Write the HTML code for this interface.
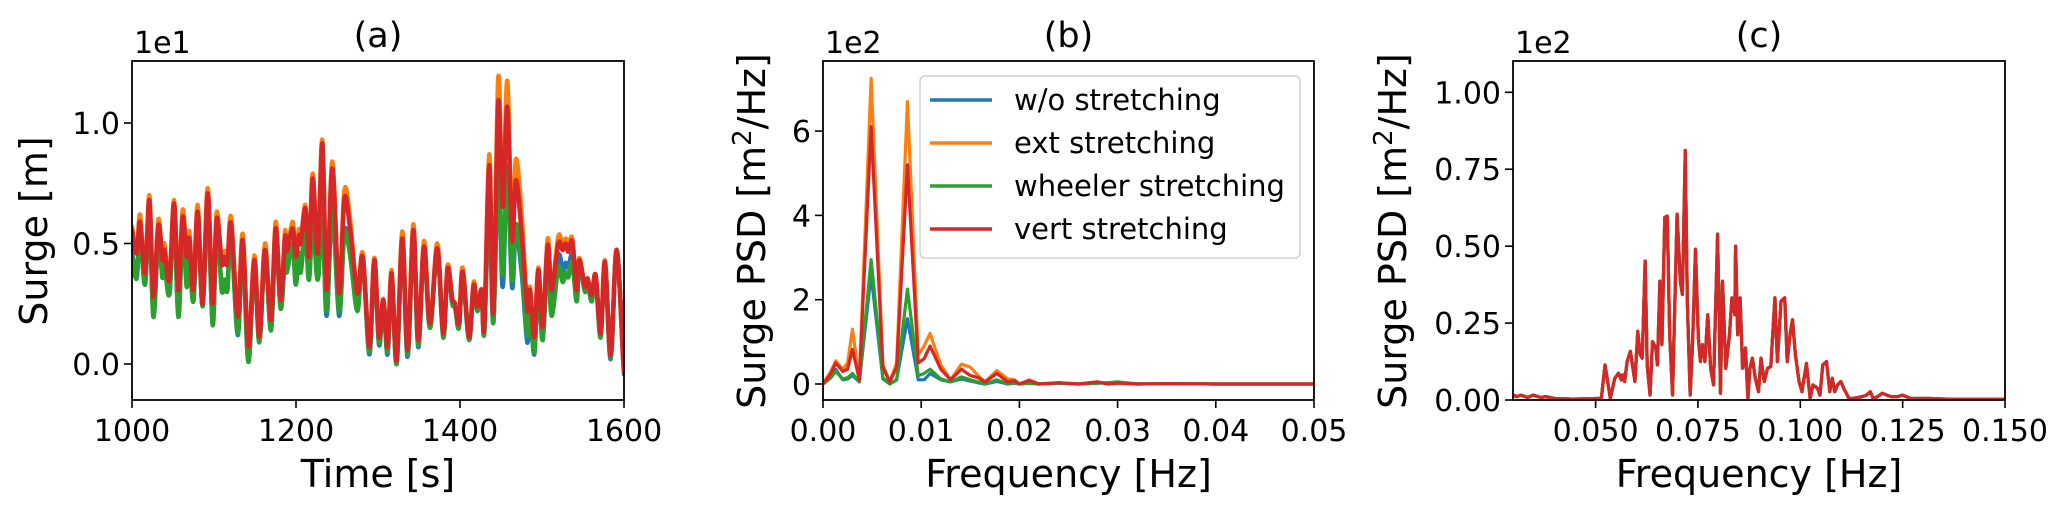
<!DOCTYPE html>
<html><head><meta charset="utf-8"><style>
html,body{margin:0;padding:0;background:#fff;}
svg{display:block;font-family:"DejaVu Sans","Liberation Sans",sans-serif;}
</style></head><body>
<svg id="fig" width="2067" height="512" viewBox="0 0 2067 512" xmlns="http://www.w3.org/2000/svg">
<defs>
<clipPath id="clipA"><rect x="132" y="61" width="492" height="339"/></clipPath>
<clipPath id="clipB"><rect x="823" y="61" width="491" height="339"/></clipPath>
<clipPath id="clipC"><rect x="1513" y="61" width="492" height="339"/></clipPath>
</defs>
<g id="gA"></g>
<g id="gB"></g>
<g id="gC"></g>
</svg>
<script>
// ---------- Panel (a) data ----------
const aTime=[1000,1005.7,1009.8,1015.9,1021.2,1026.1,1032.2,1037,1039.5,1045.6,
1051.3,1056.5,1061.8,1066.7,1069.9,1074.8,1080.1,1086.2,1092.3,1098.4,
1103.3,1109.4,1112.6,1116.3,1120.8,1128.9,1135,1141.9,1149.2,1155.3,
1162.2,1169.5,1175.2,1181.3,1186.6,1188.7,1196,1199.6,1203.7,1205.7,
1211.4,1215.9,1220.4,1226.5,1232.1,1237.4,1244.3,1252.5,1259,1266,
1274.8,1281.3,1289.5,1295.5,1301.2,1306.5,1311.7,1316.6,1322.7,1329.6,
1336.1,1343.1,1349.1,1356.1,1363.4,1372.3,1379.6,1384.9,1390.6,1393.9,
1398.7,1403.2,1411,1416.6,1421.1,1426.4,1429.6,1435.7,1440.6,1446.7,
1452,1457.7,1463.4,1468.2,1475.2,1482.1,1485.3,1490.6,1495.5,1500.8,
1506.9,1511.7,1519.9,1525.2,1528.8,1532.1,1537,1542.2,1545.5,1552.4,
1555.6,1560.5,1565.4,1571.5,1576.8,1583.7,1591,1599.1,1600];
const aBlue=[.47,.36,.55,.33,.64,.196,.54,.36,.42,.29,
.63,.196,.57,.33,.47,.26,.61,.24,.68,.165,
.58,.307,.35,.31,.55,.12,.49,.009,.42,.09,
.46,.14,.54,.23,.45,.38,.50,.33,.46,.38,
.55,.35,.6,.35,.62,.2,.65,.2,.55,.47,
.24,.45,.04,.44,.08,.25,.04,.36,.0,.5,
.03,.54,.07,.47,.15,.47,.11,.39,.25,.24,
.15,.37,.1,.32,.22,.3,.13,.7,.17,.84,
.32,.82,.32,.55,.38,.09,.25,.04,.35,.1,
.45,.22,.45,.39,.42,.40,.45,.26,.42,.3,
.35,.26,.36,.11,.42,.02,.47,.01,-.04];
const aOrange=[.57,.46,.62,.376,.70,.279,.60,.431,.50,.348,
.68,.307,.64,.445,.55,.307,.66,.251,.73,.251,
.63,.417,.47,.417,.61,.196,.54,.072,.45,.113,
.50,.182,.59,.265,.55,.466,.59,.445,.56,.5,
.66,.445,.79,.459,.93,.307,.84,.293,.72,.6,
.293,.46,.072,.44,.113,.27,.072,.39,.016,.55,
.058,.58,.099,.51,.168,.5,.127,.41,.27,.25,
.168,.40,.113,.34,.238,.31,.154,.87,.21,1.19,
.652,1.175,.53,.85,.62,.224,.32,.113,.40,.154,
.52,.31,.53,.49,.52,.49,.52,.307,.44,.321,
.355,.286,.37,.127,.43,.037,.475,.016,-.02];
const aGreen=[.45,.355,.55,.33,.64,.196,.54,.36,.42,.29,
.63,.196,.57,.32,.47,.26,.6,.24,.68,.161,
.58,.307,.35,.307,.55,.13,.49,.009,.42,.09,
.46,.14,.54,.23,.45,.38,.50,.33,.46,.38,
.55,.35,.6,.35,.62,.22,.65,.22,.54,.45,
.22,.43,.05,.42,.09,.25,.05,.36,.0,.5,
.04,.54,.08,.47,.15,.47,.11,.39,.25,.24,
.15,.37,.1,.32,.22,.3,.13,.7,.17,.84,
.37,.82,.35,.58,.42,.12,.25,.05,.35,.1,
.45,.2,.4,.34,.38,.36,.42,.26,.42,.3,
.35,.26,.36,.11,.42,.03,.47,.02,-.03];
const aRed=[.556,.459,.59,.376,.68,.279,.576,.431,.473,.348,
.666,.307,.611,.445,.521,.307,.632,.251,.708,.251,
.604,.417,.445,.417,.583,.196,.514,.072,.431,.113,
.473,.182,.563,.265,.528,.466,.563,.445,.535,.5,
.646,.445,.77,.459,.915,.307,.811,.293,.687,.56,
.293,.445,.072,.431,.113,.265,.072,.376,.016,.521,
.058,.556,.099,.487,.168,.48,.127,.397,.27,.25,
.168,.383,.113,.327,.238,.307,.154,.825,.21,1.088,
.652,1.067,.514,.763,.542,.224,.307,.113,.39,.154,
.493,.307,.5,.473,.5,.466,.507,.307,.431,.321,
.355,.286,.369,.127,.424,.037,.473,.016,-.02];
const aXTicks=[1000,1200,1400,1600];
const aYTicks=[0.0,0.5,1.0];
const aYTickLabels=["0.0","0.5","1.0"];

// ---------- Panel (b) data ----------
const bFreq=[0,0.0008,0.0013,0.002,0.0025,0.003,0.0037,0.0049,0.0061,0.0068,0.0075,0.0086,0.0097,0.0103,0.0109,0.012,0.013,0.0141,0.015,0.0158,0.0165,0.0177,0.0188,0.0195,0.02,0.021,0.022,0.024,0.026,0.028,0.029,0.03,0.032,0.035,0.04,0.045,0.05];
const bBlue=[0,0.15,0.35,0.1,0.12,0.2,0.05,2.6,0.12,0.0,0.1,1.55,0.1,0.1,0.25,0.1,0.05,0.12,0.07,0.03,0.0,0.06,0.0,0.02,0,0.02,0,0.02,0,0.02,0.03,0.04,0,0.01,0,0,0];
const bOrange=[0,0.3,0.55,0.35,0.5,1.3,0.1,7.25,0.45,0.05,0.5,6.7,0.7,0.9,1.2,0.45,0.1,0.47,0.4,0.2,0.05,0.32,0.12,0.1,0.0,0.1,0.0,0.03,0.0,0.05,0.0,0.02,0,0.01,0,0,0];
const bGreen=[0,0.15,0.3,0.12,0.15,0.25,0.05,2.95,0.15,0.0,0.1,2.25,0.2,0.25,0.35,0.12,0.05,0.17,0.1,0.05,0.0,0.1,0.0,0.03,0.0,0.02,0.0,0.02,0,0.02,0.03,0.05,0,0.01,0,0,0];
const bRed=[0,0.25,0.5,0.3,0.35,0.82,0.1,6.1,0.4,0.05,0.4,5.2,0.5,0.6,0.9,0.35,0.1,0.35,0.2,0.15,0.05,0.25,0.05,0.08,0.0,0.08,0.0,0.03,0.0,0.05,0.0,0.02,0,0.01,0,0,0];
const bXTicks=[0,0.01,0.02,0.03,0.04,0.05];
const bXTickLabels=["0.00","0.01","0.02","0.03","0.04","0.05"];
const bYTicks=[0,2,4,6];
const legendLabels=["w/o stretching","ext stretching","wheeler stretching","vert stretching"];

// ---------- Panel (c) data ----------
const cFreq=[0.0299,0.0307,0.0318,0.0334,0.0347,0.0367,0.0378,0.04,0.0443,0.0503,0.0514,0.0523,0.0536,0.0547,0.0556,0.0563,0.0566,0.0571,0.0577,0.0585,0.0596,0.0603,0.0609,0.0614,0.0621,0.0626,0.0633,0.0639,0.0647,0.0651,0.0657,0.0662,0.0669,0.0675,0.0681,0.0688,0.0699,0.0707,0.0712,0.0719,0.0724,0.0731,0.0737,0.0744,0.0751,0.0756,0.0761,0.0767,0.0774,0.0781,0.0788,0.0798,0.0805,0.081,0.0818,0.0827,0.0833,0.084,0.0842,0.0847,0.0853,0.0859,0.0866,0.0872,0.0877,0.0883,0.089,0.0898,0.0904,0.0912,0.092,0.0928,0.0938,0.0944,0.0953,0.0962,0.0968,0.0975,0.0981,0.0988,0.0997,0.1004,0.1015,0.1024,0.1031,0.1042,0.1048,0.1055,0.1064,0.1072,0.1078,0.1084,0.1091,0.1099,0.1108,0.1119,0.1129,0.1151,0.1162,0.1171,0.1178,0.1189,0.12,0.1211,0.1222,0.1238,0.1249,0.1271,0.1315,0.1358,0.1413,0.15];
const cPsd=[0.016,0.011,0.016,0.008,0.016,0.008,0.011,0.005,0.003,0.005,0.005,0.114,0.005,0.071,0.087,0.065,0.082,0.06,0.125,0.158,0.06,0.223,0.147,0.136,0.452,0.114,0.016,0.19,0.169,0.114,0.386,0.18,0.593,0.598,0.212,0.016,0.604,0.386,0.343,0.811,0.321,0.016,0.19,0.49,0.201,0.125,0.18,0.125,0.277,0.103,0.049,0.539,0.022,0.386,0.103,0.212,0.332,0.277,0.5,0.212,0.332,0.103,0.169,0.005,0.103,0.136,0.071,0.027,0.136,0.06,0.103,0.109,0.332,0.125,0.321,0.332,0.125,0.212,0.261,0.147,0.06,0.027,0.119,0.005,0.049,0.038,0.016,0.114,0.125,0.027,0.071,0.027,0.049,0.06,0.033,0.005,0.005,0.011,0.016,0.027,0.005,0.011,0.022,0.016,0.011,0.011,0.016,0.005,0.005,0.003,0.003,0.003];
const cXTicks=[0.05,0.075,0.1,0.125,0.15];
const cXTickLabels=["0.050","0.075","0.100","0.125","0.150"];
const cYTicks=[0,0.25,0.5,0.75,1.0];
const cYTickLabels=["0.00","0.25","0.50","0.75","1.00"];

const COLORS=["#1f77b4","#ff7f0e","#2ca02c","#d62728"];
const NS="http://www.w3.org/2000/svg";
function mk(parent,tag,attrs,text){const e=document.createElementNS(NS,tag);for(const k in attrs)e.setAttribute(k,attrs[k]);if(text!==undefined)e.textContent=text;parent.appendChild(e);return e;}
function lin(d0,d1,r0,r1){return v=>r0+(v-d0)/(d1-d0)*(r1-r0);}
function smoothPath(pts){let d="M"+pts[0][0]+","+pts[0][1];for(let i=0;i<pts.length-1;i++){const p0=pts[Math.max(0,i-1)],p1=pts[i],p2=pts[i+1],p3=pts[Math.min(pts.length-1,i+2)];const c1x=p1[0]+(p2[0]-p0[0])/6,c1y=p1[1]+(p2[1]-p0[1])/6,c2x=p2[0]-(p3[0]-p1[0])/6,c2y=p2[1]-(p3[1]-p1[1])/6;d+=" C"+c1x.toFixed(2)+","+c1y.toFixed(2)+" "+c2x.toFixed(2)+","+c2y.toFixed(2)+" "+p2[0].toFixed(2)+","+p2[1].toFixed(2);}return d;}
function linePath(pts){return "M"+pts.map(p=>p[0].toFixed(2)+","+p[1].toFixed(2)).join(" L");}

function axesFrame(g,L,T,R,B,xs,ys,xt,xtl,yt,ytl,title,xlabel,ylabelNode,mult){
  const frame=mk(g,"rect",{x:L,y:T,width:R-L,height:B-T,fill:"none",stroke:"#000","stroke-width":1.8});
  
  
  xt.forEach((v,i)=>{const x=xs(v);
    const tk=mk(g,"line",{x1:x,y1:B,x2:x,y2:B+8,stroke:"#000","stroke-width":1.6});
    
    
    const tl=mk(g,"text",{x:x,y:441,"font-size":30,"text-anchor":"middle"},xtl[i]);
    
    
  });
  yt.forEach((v,i)=>{const y=ys(v);
    const tk=mk(g,"line",{x1:L-8,y1:y,x2:L,y2:y,stroke:"#000","stroke-width":1.6});
    
    
    const tl=mk(g,"text",{x:L-12,y:y+11,"font-size":30,"text-anchor":"end"},ytl[i]);
    
    
  });
  const t=mk(g,"text",{x:(L+R)/2,y:47,"font-size":35,"text-anchor":"middle"},title);
  
  
  const m=mk(g,"text",{x:L+2,y:53,"font-size":30},mult);
  
  
  const xl=mk(g,"text",{x:(L+R)/2,y:487,"font-size":38,"text-anchor":"middle"},xlabel);
  
  
}
function ylab(g,xc,yc,sup){
  const t=mk(g,"text",{transform:"translate("+(xc+14)+","+yc+") rotate(-90)","font-size":38,"text-anchor":"middle"});
  
  
  if(sup){
    mk(t,"tspan",{},"Surge PSD [m");
    mk(t,"tspan",{"font-size":26,dy:-14},"2");
    mk(t,"tspan",{dy:14},"/Hz]");
  } else t.textContent="Surge [m]";
}

// Panel A
(function(){
  const g=document.getElementById("gA");
  const L=132,T=61,R=624,B=400;
  const xs=lin(1000,1600,L,R), ys=lin(0,1,364,123);
  const sg=mk(g,"g",{"clip-path":"url(#clipA)"});
  
  
  const series=[aBlue,aOrange,aGreen,aRed], names=["surge-wo-stretching","surge-ext-stretching","surge-wheeler-stretching","surge-vert-stretching"];
  series.forEach((s,k)=>{
    const pts=aTime.map((t,i)=>[xs(t),ys(s[i])]);
    const p=mk(sg,"path",{d:smoothPath(pts),fill:"none",stroke:COLORS[k],"stroke-width":4.5,"stroke-linejoin":"round","stroke-linecap":"round"});
    
    
  });
  axesFrame(g,L,T,R,B,xs,ys,aXTicks,aXTicks.map(String),aYTicks,aYTickLabels,"(a)","Time [s]",null,"1e1");
  ylab(g,33,231,false);
})();

// Panel B
(function(){
  const g=document.getElementById("gB");
  const L=823,T=61,R=1314,B=400;
  const xs=lin(0,0.05,L,R), ys=lin(0,2,384,299.7);
  const sg=mk(g,"g",{"clip-path":"url(#clipB)"});
  
  
  const series=[bBlue,bOrange,bGreen,bRed], names=["psd-wo-stretching","psd-ext-stretching","psd-wheeler-stretching","psd-vert-stretching"];
  series.forEach((s,k)=>{
    const pts=bFreq.map((f,i)=>[xs(f),ys(s[i])]);
    const p=mk(sg,"path",{d:linePath(pts),fill:"none",stroke:COLORS[k],"stroke-width":3.2,"stroke-linejoin":"round"});
    
    
  });
  axesFrame(g,L,T,R,B,xs,ys,bXTicks,bXTickLabels,bYTicks,bYTicks.map(String),"(b)","Frequency [Hz]",null,"1e2");
  ylab(g,751,231,true);
  const lg=mk(g,"g",{});
  
  
  const box=mk(lg,"rect",{x:920,y:76,width:380,height:182,rx:5,fill:"#fff","fill-opacity":0.8,stroke:"#d0d0d0","stroke-width":1.5});
  
  
  legendLabels.forEach((lab,i)=>{
    const y=100+i*43;
    const ln=mk(lg,"line",{x1:930,y1:y,x2:992,y2:y,stroke:COLORS[i],"stroke-width":3.5});
    
    
    const tx=mk(lg,"text",{x:1014,y:y+10,"font-size":29},lab);
    
    
  });
})();

// Panel C
(function(){
  const g=document.getElementById("gC");
  const L=1513,T=61,R=2005,B=400;
  const xs=lin(0.05,0.15,1595.6,2005), ys=lin(0,1,400,92.3);
  const sg=mk(g,"g",{"clip-path":"url(#clipC)"});
  
  
  const names=["psd-hf-wo-stretching","psd-hf-ext-stretching","psd-hf-wheeler-stretching","psd-hf-vert-stretching"];
  [0,1,2,3].forEach(k=>{
    const pts=cFreq.map((f,i)=>[xs(f),ys(cPsd[i])]);
    const p=mk(sg,"path",{d:linePath(pts),fill:"none",stroke:COLORS[k],"stroke-width":3.2,"stroke-linejoin":"round"});
    
    
  });
  axesFrame(g,L,T,R,B,xs,ys,cXTicks,cXTickLabels,cYTicks,cYTickLabels,"(c)","Frequency [Hz]",null,"1e2");
  ylab(g,1392,231,true);
})();
</script>
</body></html>
